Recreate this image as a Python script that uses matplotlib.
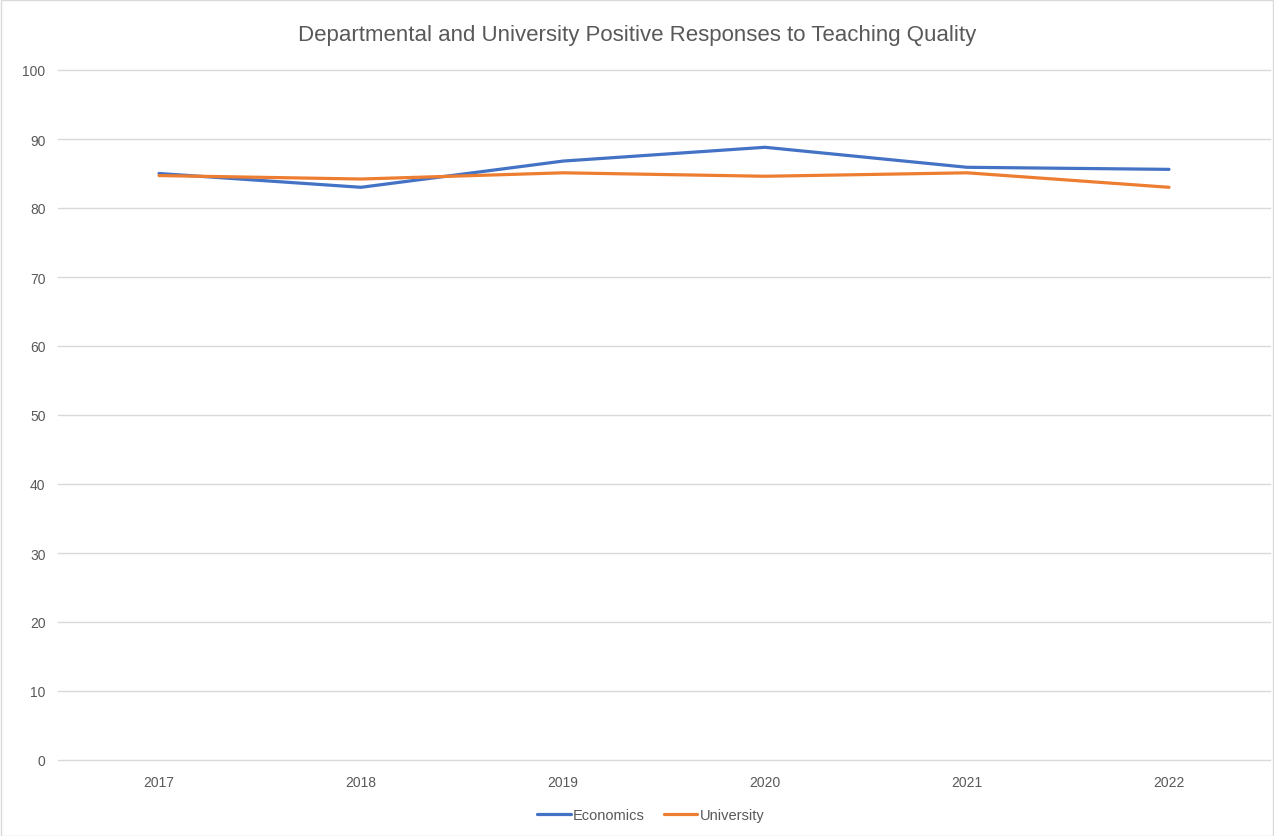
import matplotlib.pyplot as plt
from matplotlib.patches import Rectangle

years = ["2017", "2018", "2019", "2020", "2021", "2022"]
economics = [85.0, 83.0, 86.8, 88.8, 85.9, 85.6]
university = [84.7, 84.2, 85.1, 84.6, 85.1, 83.0]

BLUE = "#4472C4"
ORANGE = "#ED7D31"
TEXT = "#595959"
GRID = "#D9D9D9"


def main():
    plt.rcParams["font.family"] = ["Liberation Sans", "DejaVu Sans"]
    fig = plt.figure(figsize=(12.74, 8.37), dpi=100)
    ax = fig.add_axes([58 / 1274, 1 - 761 / 837, 1212 / 1274, 690 / 837])

    x = range(len(years))
    ax.plot(x, economics, color=BLUE, linewidth=2.3, label="Economics",
            solid_capstyle="round")
    ax.plot(x, university, color=ORANGE, linewidth=2.3, label="University",
            solid_capstyle="round")

    ax.set_xlim(-0.5, len(years) - 0.5)
    ax.set_ylim(0, 100)
    ax.set_yticks(range(0, 101, 10))
    ax.set_xticks(list(x))
    ax.set_xticklabels(years)
    ax.tick_params(length=0, labelsize=10, colors=TEXT, pad=11)
    ax.tick_params(axis="y", pad=9)
    ax.grid(axis="y", color=GRID, linewidth=1)
    for line in ax.get_ygridlines():
        line.set_clip_on(False)
    ax.set_axisbelow(True)
    for s in ax.spines.values():
        s.set_visible(False)

    fig.text(0.5, 1 - 36 / 837, "Departmental and University Positive Responses to Teaching Quality",
             ha="center", va="center", fontsize=16, color=TEXT)

    ax.legend(loc="center", bbox_to_anchor=(0.489, -55 / 690), ncol=2, frameon=False,
              fontsize=10.5, labelcolor=TEXT, handlelength=2.3, handletextpad=0.15,
              columnspacing=1.3)

    fig.patches.append(Rectangle((0.5 / 1274, 0.5 / 837), 1 - 1.5 / 1274, 1 - 1.5 / 837,
                                 transform=fig.transFigure, fill=False,
                                 edgecolor=GRID, linewidth=1))

    fig.savefig("out.png", dpi=100)


if __name__ == "__main__":
    main()
